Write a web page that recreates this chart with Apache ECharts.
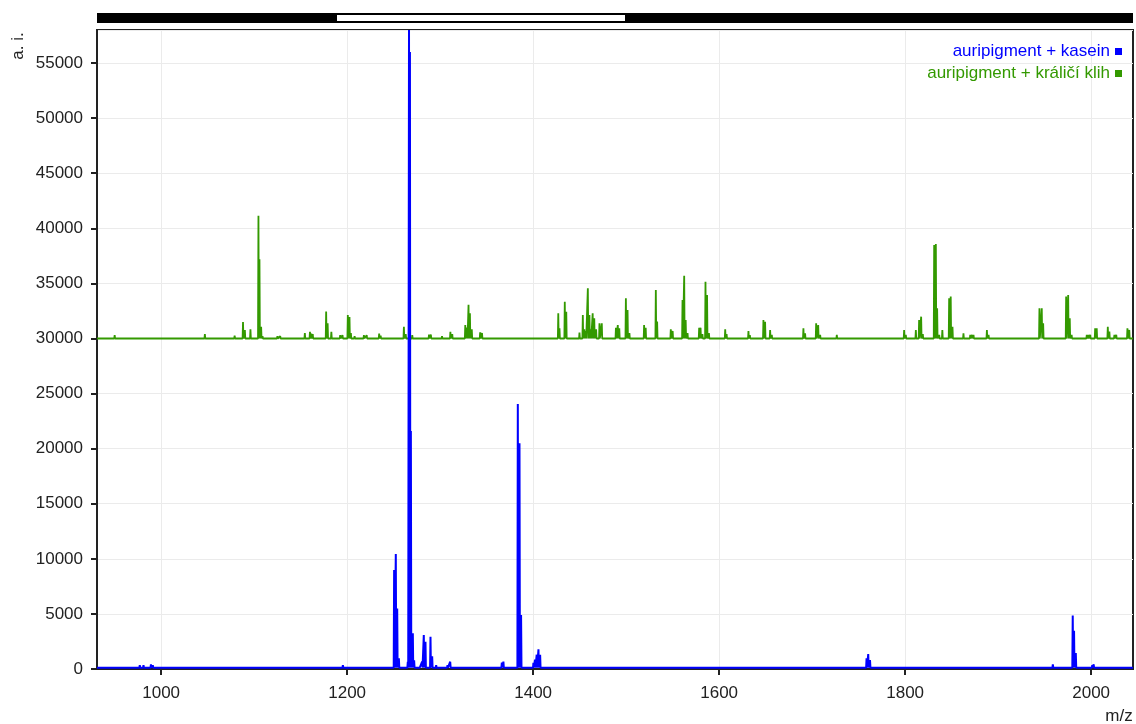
<!DOCTYPE html>
<html><head><meta charset="utf-8">
<script src="https://cdn.jsdelivr.net/npm/echarts@6/dist/echarts.min.js"></script>
<style>html,body{margin:0;padding:0;background:#fff}#c{width:1136px;height:724px}</style>
</head><body><div id="c"></div>
<script>
const seriesNames = ['auripigment + kasein', 'auripigment + králičí klih'];
const xTickLabels = [1000, 1200, 1400, 1600, 1800, 2000];
const xRange = [931, 2045];
const yRange = [0, 58000];
const yInterval = 5000;

// auripigment + kasein (blue) peak list: m/z and intensity
const caseinMz = [977, 979, 981, 985, 989, 991, 992.5, 1195.4, 1222, 1226,
  1250.5, 1252.3, 1253.8, 1255.6, 1265.2, 1266.5, 1267.5, 1268.5, 1270.6, 1272,
  1278.5, 1280.6, 1282.4, 1284.2, 1286, 1289.6, 1291.4, 1295.7, 1307.9, 1310.8,
  1312.6, 1333.3, 1366.3, 1368, 1370, 1383.5, 1385.3, 1387, 1388.9, 1400.3,
  1402, 1403.8, 1405.7, 1407.5, 1409.3, 1421.8, 1428, 1521.7, 1564, 1591.7,
  1624.8, 1640.6, 1699.6, 1758.5, 1760.3, 1762.2, 1871.6, 1950.8, 1954.4, 1958.8,
  1980.2, 1981.6, 1983.5, 2001.2, 2002.7];
const caseinInt = [360, 300, 360, 240, 420, 350, 300, 360, 270, 270,
  8985, 10440, 5500, 970, 660, 58000, 56000, 21600, 3240, 800,
  300, 670, 3090, 2480, 300, 2935, 1150, 360, 360, 660,
  300, 270, 580, 670, 300, 24050, 20500, 4900, 300, 550,
  850, 1300, 1785, 1300, 300, 270, 270, 270, 270, 300,
  270, 270, 270, 980, 1350, 820, 270, 270, 270, 420,
  4860, 3470, 1450, 360, 420];
const caseinBase = 120;

// auripigment + králičí klih (green) peak list: m/z and intensity (displayed with offset)
const klihMz = [950, 1047, 1079, 1088, 1090, 1096, 1104.6, 1105.7, 1107.5, 1109,
  1125, 1128, 1154.5, 1160, 1161.5, 1163, 1177.4, 1179, 1183, 1192.5,
  1195, 1200.7, 1202.5, 1204, 1208, 1218, 1221, 1234.4, 1236, 1261,
  1263, 1270, 1288, 1290, 1302, 1311, 1313, 1327, 1329, 1330.5,
  1332, 1334, 1343, 1345, 1427, 1428.3, 1434, 1435.6, 1449.8, 1453.4,
  1455, 1456.6, 1458.8, 1460.5, 1462, 1464, 1465.7, 1467.7, 1471.3, 1473.8,
  1489, 1491, 1492.6, 1499.7, 1501.5, 1503.5, 1519.3, 1521, 1531.9, 1533.3,
  1548, 1550, 1560.6, 1562.4, 1564, 1566, 1578.5, 1580, 1582, 1585.3,
  1587, 1589, 1606.5, 1608, 1631.5, 1633, 1647.6, 1649.4, 1654.8, 1656.6,
  1690.6, 1692.4, 1704.3, 1706.5, 1708.6, 1726.5, 1798.9, 1800.7, 1811.5, 1815,
  1817.2, 1819, 1831.2, 1833, 1834.4, 1836.6, 1840, 1847.3, 1849, 1850.9,
  1862.7, 1870, 1872, 1873.5, 1887.9, 1889.7, 1944.4, 1946.9, 1948.4, 1973.1,
  1975.3, 1977, 1979, 1995.3, 1997, 1999, 2004.3, 2006, 2017.9, 2019.6,
  2025, 2027, 2039, 2041];
const klihInt = [300, 400, 250, 1500, 770, 830, 11150, 7200, 1070, 200,
  200, 200, 500, 600, 450, 400, 2450, 1380, 600, 300,
  300, 2130, 1950, 500, 200, 300, 300, 450, 250, 1070,
  400, 300, 350, 350, 200, 600, 400, 1225, 1000, 3050,
  2290, 830, 550, 500, 2290, 925, 3340, 2430, 530, 2130,
  830, 680, 4550, 2130, 830, 2290, 1830, 830, 1380, 1380,
  980, 1225, 925, 3650, 2590, 500, 1225, 980, 4400, 1530,
  830, 680, 3490, 5700, 1680, 500, 980, 980, 400, 5160,
  3950, 500, 830, 400, 680, 300, 1680, 1525, 770, 320,
  925, 470, 1380, 1225, 320, 320, 770, 320, 770, 1680,
  1980, 400, 8490, 8580, 2740, 320, 770, 3650, 3800, 1070,
  470, 320, 320, 320, 770, 320, 2740, 2740, 1380, 3800,
  3950, 1830, 320, 320, 320, 320, 925, 925, 1070, 620,
  320, 320, 925, 770];
const klihOffset = 30000;
const klihBase = 0;

const colors = ['#0000ff', '#339900'];
const FONT = '"Liberation Sans", Arial, sans-serif';

function stickSpectrum(mz, ints, offset, base) {
  const half = 0.45;
  const d = [[xRange[0], offset + base]];
  for (let i = 0; i < mz.length; i++) {
    d.push([mz[i] - half, offset + base]);
    d.push([mz[i], offset + ints[i]]);
    d.push([mz[i] + half, offset + base]);
  }
  d.push([xRange[1], offset + base]);
  return d;
}

const plain = v => String(v);

const chart = echarts.init(document.getElementById('c'), null, {renderer: 'canvas'});
chart.setOption({
  animation: false,
  backgroundColor: '#fff',
  textStyle: {fontFamily: FONT},
  grid: {left: 97, right: 3, top: 30, bottom: 55, show: true, borderColor: '#222', borderWidth: 2, backgroundColor: 'transparent'},
  legend: {
    orient: 'vertical', right: 14, top: 43, padding: 0, align: 'right',
    itemWidth: 7, itemHeight: 7, itemGap: 5, icon: 'rect',
    selectedMode: false,
    textStyle: {fontSize: 17, fontFamily: FONT},
    data: [
      {name: seriesNames[0], textStyle: {color: colors[0]}},
      {name: seriesNames[1], textStyle: {color: colors[1]}}
    ]
  },
  xAxis: {
    type: 'value', min: xRange[0], max: xRange[1],
    axisLine: {show: true, lineStyle: {color: '#222', width: 2}},
    axisTick: {show: true, length: 6, lineStyle: {color: '#222', width: 2}, customValues: xTickLabels},
    axisLabel: {fontSize: 17, color: '#222', margin: 16, fontFamily: FONT, customValues: xTickLabels, formatter: plain},
    splitLine: {show: true, lineStyle: {color: '#ebebeb', width: 1}}
  },
  yAxis: {
    type: 'value', min: yRange[0], max: yRange[1], interval: yInterval,
    axisLine: {show: true, lineStyle: {color: '#222', width: 2}},
    axisTick: {show: true, length: 6, lineStyle: {color: '#222', width: 2}},
    axisLabel: {fontSize: 17, color: '#222', margin: 14, fontFamily: FONT, showMaxLabel: false, formatter: plain},
    splitLine: {show: true, lineStyle: {color: '#ebebeb', width: 1}}
  },
  graphic: [
    {type: 'rect', shape: {x: 97, y: 13, width: 1036, height: 10}, style: {fill: '#000'}},
    {type: 'rect', shape: {x: 337, y: 15, width: 288, height: 6}, style: {fill: '#fff'}},
    {type: 'text', x: 18, y: 46, rotation: Math.PI / 2,
      style: {text: 'a. i.', fontSize: 17, fill: '#222', fontFamily: FONT, align: 'center', verticalAlign: 'middle'}},
    {type: 'text', x: 1119, y: 716,
      style: {text: 'm/z', fontSize: 17, fill: '#222', fontFamily: FONT, align: 'center', verticalAlign: 'middle'}}
  ],
  series: [
    {
      name: seriesNames[0], type: 'line', z: 3, showSymbol: false, symbol: 'none',
      sampling: null, clip: true, color: colors[0],
      lineStyle: {color: colors[0], width: 2},
      data: stickSpectrum(caseinMz, caseinInt, 0, caseinBase)
    },
    {
      name: seriesNames[1], type: 'line', z: 2, showSymbol: false, symbol: 'none',
      sampling: null, clip: true, color: colors[1],
      lineStyle: {color: colors[1], width: 1.8},
      data: stickSpectrum(klihMz, klihInt, klihOffset, klihBase)
    }
  ]
});
</script>
</body></html>
